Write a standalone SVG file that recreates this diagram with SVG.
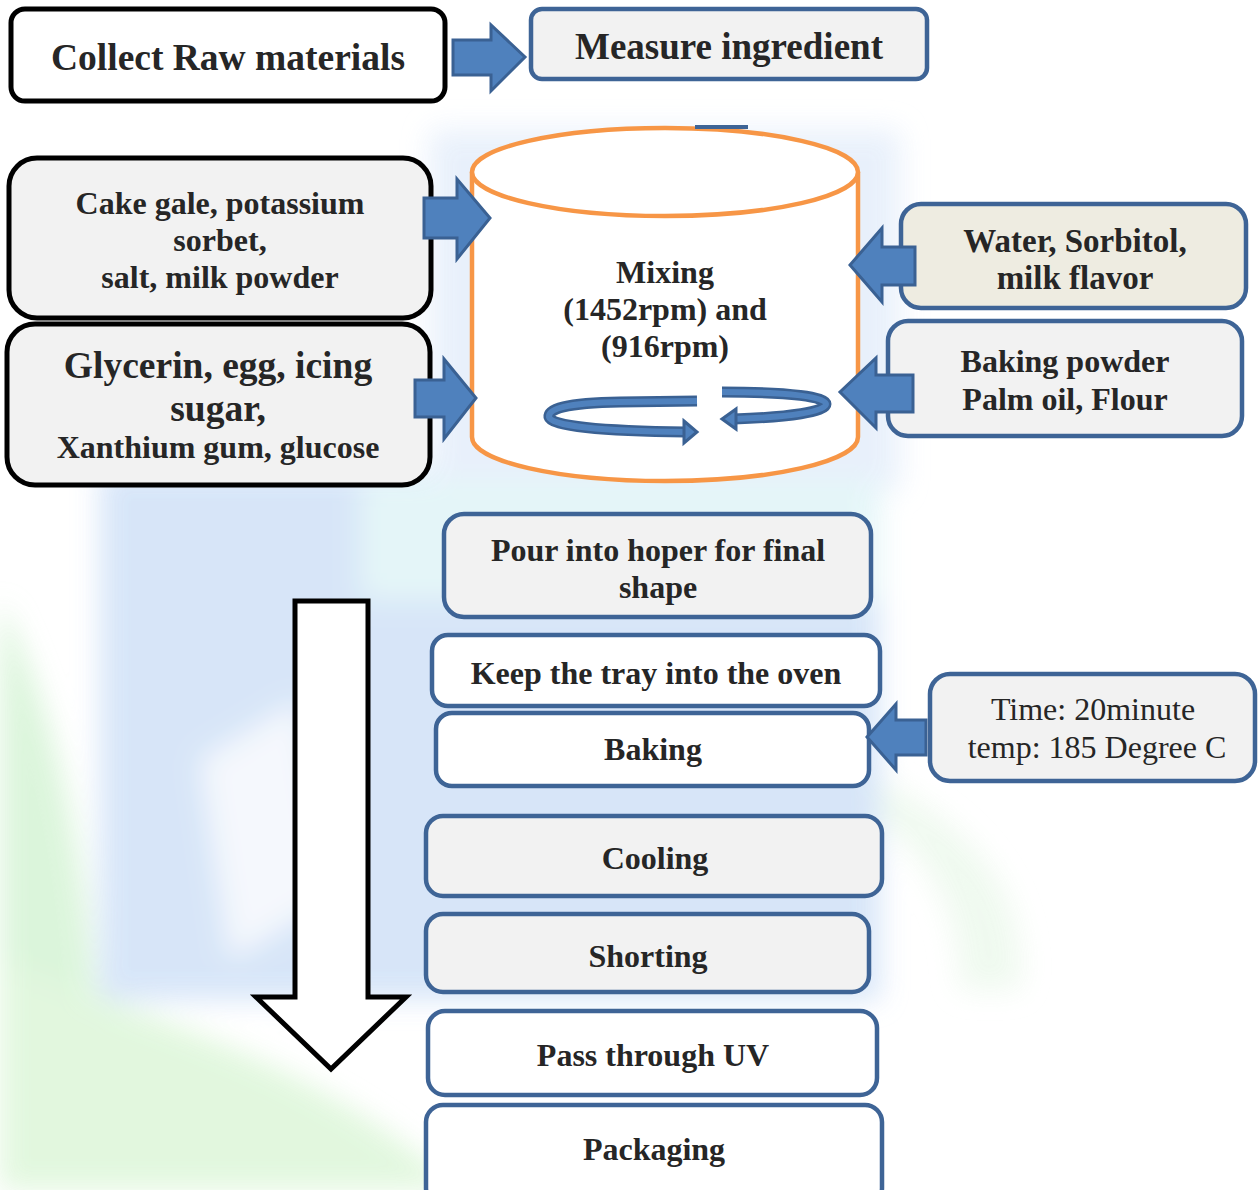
<svg xmlns="http://www.w3.org/2000/svg" width="1258" height="1190" viewBox="0 0 1258 1190">
  <defs>
    <style>
      .lbl { font-family: "Liberation Serif", "Times New Roman", serif; font-weight: bold; fill: #262626; text-anchor: middle; }
      .reg { font-family: "Liberation Serif", "Times New Roman", serif; font-weight: normal; fill: #262626; text-anchor: middle; }
      .blk { stroke: #000; stroke-width: 5; }
      .blu { stroke: #3e6496; stroke-width: 4.5; }
      .grey { fill: #f2f2f2; }
      .white { fill: #ffffff; }
      .barrow { fill: #4f81bd; stroke: #3a6193; stroke-width: 3; stroke-linejoin: miter; }
    </style>
    <filter id="soft" x="-20%" y="-20%" width="140%" height="140%">
      <feGaussianBlur stdDeviation="14"/>
    </filter>
  </defs>

  <rect width="1258" height="1190" fill="#ffffff"/>

  <!-- faint background watermark -->
  <g id="watermark" filter="url(#soft)" opacity="0.9">
    <path d="M0 600 C50 700 80 820 95 1000 L0 1000 Z" fill="#d8f4d8"/>
    <path d="M0 960 C150 1020 320 1060 460 1190 L0 1190 Z" fill="#dff7db"/>
    <rect x="100" y="470" width="780" height="530" fill="#d3e3f8"/>
    <rect x="430" y="130" width="470" height="360" fill="#e6effb"/>
    <rect x="360" y="480" width="520" height="120" fill="#e2f5f8"/>
    <path d="M200 760 L300 700 L330 900 L230 960 Z" fill="#f4f8fd"/>
    <path d="M880 780 C980 830 1030 900 1020 990 L960 990 C960 900 920 850 880 820 Z" fill="#eef9ee"/>
  </g>

  <g id="collect">
    <rect x="11" y="9" width="434" height="92" rx="14" class="white blk"/>
    <text x="228" y="70" class="lbl" font-size="37.5" fill="#000">Collect Raw materials</text>
  </g>

  <g id="measure">
    <rect x="531" y="9" width="396" height="70" rx="11" class="grey blu"/>
    <text x="729" y="59" class="lbl" font-size="37">Measure ingredient</text>
  </g>

  <g id="mixer">
    <path d="M472 172 L472 437 A193 44 0 0 0 858 437 L858 172" fill="#ffffff" stroke="#f79646" stroke-width="4.5"/>
    <ellipse cx="665" cy="172" rx="193" ry="44" fill="#ffffff" stroke="#f79646" stroke-width="4.5"/>
    <text x="665" y="283" class="lbl" font-size="32" fill="#000">Mixing</text>
    <text x="665" y="320" class="lbl" font-size="32" fill="#000">(1452rpm) and</text>
    <text x="665" y="357" class="lbl" font-size="32" fill="#000">(916rpm)</text>
    <!-- stirring rings -->
    <g fill="none" stroke-linecap="butt">
      <path d="M697 401 L620 402 C565 403 548 409 549 417 C551 426 600 431 686 432" stroke="#3a6193" stroke-width="11"/>
      <path d="M697 401 L620 402 C565 403 548 409 549 417 C551 426 600 431 686 432" stroke="#4f81bd" stroke-width="6"/>
      <path d="M722 392 C792 392 826 397 826 404 C826 412 790 417 734 419" stroke="#3a6193" stroke-width="11"/>
      <path d="M722 392 C792 392 826 397 826 404 C826 412 790 417 734 419" stroke="#4f81bd" stroke-width="6"/>
    </g>
    <polygon points="684,421 697,432 684,443" class="barrow" stroke-width="2"/>
    <polygon points="736,409 722,419 736,429" class="barrow" stroke-width="2"/>
  </g>

  <g id="cake-gale">
    <rect x="9" y="158" width="422" height="160" rx="28" class="grey blk"/>
    <text x="220" y="214" class="lbl" font-size="32">Cake gale, potassium</text>
    <text x="220" y="251" class="lbl" font-size="32">sorbet,</text>
    <text x="220" y="288" class="lbl" font-size="32">salt, milk powder</text>
  </g>

  <g id="glycerin">
    <rect x="7" y="324" width="423" height="161" rx="28" class="grey blk"/>
    <text x="218" y="378" class="lbl" font-size="37.5">Glycerin, egg, icing</text>
    <text x="218" y="421" class="lbl" font-size="37.5">sugar,</text>
    <text x="218" y="458" class="lbl" font-size="32">Xanthium gum, glucose</text>
  </g>

  <g id="water">
    <rect x="901" y="204" width="345" height="104" rx="20" fill="#eeece1" class="blu"/>
    <text x="1075" y="252" class="lbl" font-size="33">Water, Sorbitol,</text>
    <text x="1075" y="289" class="lbl" font-size="33">milk flavor</text>
  </g>

  <g id="baking-powder">
    <rect x="888" y="321" width="354" height="115" rx="20" class="grey blu"/>
    <text x="1065" y="372" class="lbl" font-size="32">Baking powder</text>
    <text x="1065" y="410" class="lbl" font-size="32">Palm oil, Flour</text>
  </g>

  <g id="pour">
    <rect x="444" y="514" width="427" height="103" rx="20" class="grey blu"/>
    <text x="658" y="561" class="lbl" font-size="32">Pour into hoper for final</text>
    <text x="658" y="598" class="lbl" font-size="32">shape</text>
  </g>

  <g id="keep-tray">
    <rect x="432" y="635" width="448" height="71" rx="16" class="white blu"/>
    <text x="656" y="684" class="lbl" font-size="32">Keep the tray into the oven</text>
  </g>

  <g id="baking">
    <rect x="436" y="713" width="433" height="73" rx="16" class="white blu"/>
    <text x="653" y="760" class="lbl" font-size="32">Baking</text>
  </g>

  <g id="oven-settings">
    <rect x="930" y="674" width="325" height="107" rx="20" class="grey blu"/>
    <text x="1093" y="720" class="reg" font-size="32">Time: 20minute</text>
    <text x="1097" y="758" class="reg" font-size="32">temp: 185 Degree C</text>
  </g>

  <g id="cooling">
    <rect x="426" y="816" width="456" height="80" rx="17" class="grey blu"/>
    <text x="655" y="869" class="lbl" font-size="32">Cooling</text>
  </g>

  <g id="shorting">
    <rect x="426" y="914" width="443" height="78" rx="17" class="grey blu"/>
    <text x="648" y="967" class="lbl" font-size="32">Shorting</text>
  </g>

  <g id="uv">
    <rect x="428" y="1011" width="449" height="84" rx="17" class="white blu"/>
    <text x="653" y="1066" class="lbl" font-size="32">Pass through UV</text>
  </g>

  <g id="packaging">
    <rect x="426" y="1105" width="456" height="100" rx="17" class="white blu"/>
    <text x="654" y="1160" class="lbl" font-size="32">Packaging</text>
  </g>

  <!-- connectors: block arrows, drawn over the shapes they point into -->
  <g id="connectors">
    <rect x="695" y="125" width="53" height="4" fill="#3e6496"/>
    <!-- collect -> measure -->
    <polygon class="barrow" points="453,40 491,40 491,25 525,57 491,91 491,75 453,75"/>
    <!-- left inputs -> mixer -->
    <polygon class="barrow" points="424,198 457,198 457,179 490,218 457,259 457,238 424,238"/>
    <polygon class="barrow" points="415,380 444,380 444,359 476,398 444,439 444,417 415,417"/>
    <!-- right inputs -> mixer -->
    <polygon class="barrow" points="915,247 882,247 882,228 850,265 882,302 882,285 915,285"/>
    <polygon class="barrow" points="913,375 876,375 876,358 840,392 876,428 876,412 913,412"/>
    <!-- oven settings -> baking -->
    <polygon class="barrow" points="926,720 896,720 896,704 867,737 896,770 896,755 926,755"/>
    <!-- overall flow arrow -->
    <polygon points="295,601 368,601 368,997 406,997 331,1069 256,997 295,997" fill="#ffffff" stroke="#000" stroke-width="5" stroke-linejoin="miter"/>
  </g>
</svg>
